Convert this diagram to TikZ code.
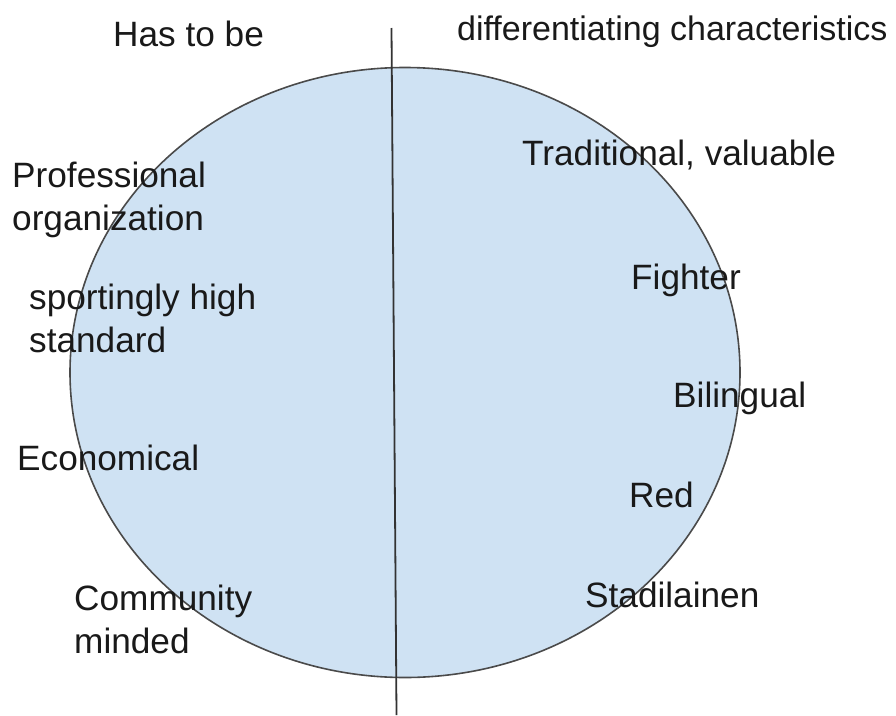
\documentclass[tikz,border=0pt]{standalone}
\usepackage{fontspec}
\setmainfont{Liberation Sans}
\usetikzlibrary{shapes.geometric}
\definecolor{discfill}{HTML}{CFE2F3}
\definecolor{discline}{HTML}{4A4A4A}
\begin{document}
\begin{tikzpicture}[x=1pt,y=-1pt,
  label/.style={anchor=base west,inner sep=0pt,align=left,
    font=\fontsize{35.2}{43}\selectfont,text=black!90},
  disc/.style={ellipse,draw=discline,line width=1.6pt,fill=discfill,
    minimum width=670pt,minimum height=610pt,inner sep=0pt}]
  \useasboundingbox (0,0) rectangle (896,715);
  % the circle split into two halves
  \node[disc] (disc) at (405,372.5) {};
  \coordinate (top) at (391.5,28);
  \coordinate (bottom) at (396.5,715);
  \draw[line width=1.8pt,draw=black!80] (top) -- (bottom);
  % headings
  \node[label] (must) at (113,46) {Has to be};
  \node[label,font=\fontsize{34}{43}\selectfont] (diff) at (457,40) {differentiating characteristics};
  % left half (two-line labels sit on the baseline of their last line)
  \node[label] (prof) at (12,230) {Professional\\organization};
  \node[label] (sport) at (29,352) {sportingly high\\standard};
  \node[label] (econ) at (17,470) {Economical};
  \node[label] (comm) at (74,653) {Community\\minded};
  % right half
  \node[label] (trad) at (522,165) {Traditional, valuable};
  \node[label] (fight) at (631,289) {Fighter};
  \node[label] (bil) at (673,407) {Bilingual};
  \node[label] (red) at (629,507) {Red};
  \node[label] (stad) at (585,607) {Stadilainen};
\end{tikzpicture}
\end{document}
